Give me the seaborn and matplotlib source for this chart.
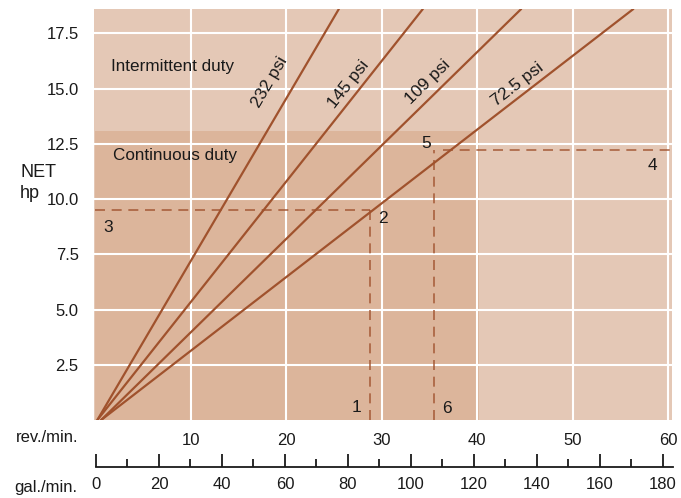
import numpy as np
import pandas as pd
import matplotlib
matplotlib.use("Agg")
import matplotlib.pyplot as plt
import seaborn as sns
from matplotlib.patches import Rectangle

sns.set_style("white")
plt.rcParams["font.family"] = ["Liberation Sans", "DejaVu Sans"]
plt.rcParams["text.color"] = "#1a1a1a"

# pressure lines: start and end (rev./min, hp)
psi_labels = ["232 psi", "145 psi", "109 psi", "72.5 psi"]
rev_start = [0.2, 0.2, 0.6, 0.6]
rev_end = [25.5, 34.3, 44.6, 56.35]
hp_end = [18.6, 18.6, 18.6, 18.6]
label_rev = [18.3, 26.5, 34.8, 44.2]
label_hp = [15.3, 15.2, 15.3, 15.2]

# duty regions
cont_rev = 40.2
cont_hp = 13.1

# reading examples (dashed guides)
ex1_rev, ex1_hp = 28.8, 9.5
ex2_rev, ex2_hp, ex2_start = 35.45, 12.23, 36.4
point_labels = ["1", "2", "3", "4", "5", "6"]
point_rev = [27.3, 30.1, 1.35, 58.3, 34.6, 36.8]
point_hp = [0.55, 9.1, 8.7, 11.5, 12.5, 0.5]

rev_ticks = [10, 20, 30, 40, 50, 60]
hp_ticks = [2.5, 5.0, 7.5, 10.0, 12.5, 15.0, 17.5]
gal_major = [0, 20, 40, 60, 80, 100, 120, 140, 160, 180]
gal_minor = [10, 30, 50, 70, 90, 110, 130, 150, 170]

light = "#e4c8b6"
dark = "#dcb59b"
brown = "#a0522d"
ink = "#1a1a1a"

fig = plt.figure(figsize=(6.81, 4.98), dpi=100)
ax = fig.add_axes([94/681, 78/498, 578/681, 411/498])
ax.set_facecolor(light)
ax.add_patch(Rectangle((0, 0), cont_rev, cont_hp, facecolor=dark, edgecolor="none", zorder=0))

for v in rev_ticks:
    ax.axvline(v, color="white", lw=1.5, zorder=1)
for h in hp_ticks:
    ax.axhline(h, color="white", lw=1.5, zorder=1)

rows = []
for lab, x0, x1, y1 in zip(psi_labels, rev_start, rev_end, hp_end):
    rows.append({"psi": lab, "rev": x0, "hp": 0})
    rows.append({"psi": lab, "rev": x1, "hp": y1})
df = pd.DataFrame(rows)
sns.lineplot(data=df, x="rev", y="hp", units="psi", estimator=None, color=brown,
             lw=1.6, ax=ax, zorder=3)

ax.set_xlim(-0.15, 60.4)
ax.set_ylim(0, 18.6)

# text labels along lines, rotated to match screen angle
sx = 578 / 60.55
sy = 411 / 18.6
for lab, x0, x1, y1, lx, ly in zip(psi_labels, rev_start, rev_end, hp_end, label_rev, label_hp):
    ang = np.degrees(np.arctan((y1 / (x1 - x0)) * sy / sx))
    ax.text(lx, ly, lab, rotation=ang, ha="center", va="center", fontsize=12.5, zorder=4)

dash = dict(color=brown, lw=1.2, ls=(0, (6, 4)), alpha=0.85, zorder=2)
ax.plot([0, ex1_rev], [ex1_hp, ex1_hp], **dash)
ax.plot([ex1_rev, ex1_rev], [0, ex1_hp], **dash)
ax.plot([ex2_rev, ex2_rev], [0, ex2_hp], **dash)
ax.plot([ex2_start, 60.4], [ex2_hp, ex2_hp], **dash)

for lab, x, y in zip(point_labels, point_rev, point_hp):
    ax.text(x, y, lab, ha="center", va="center", fontsize=12.5, zorder=4)

ax.text(1.6, 16.0, "Intermittent duty", ha="left", va="center", fontsize=12.3)
ax.text(1.8, 11.95, "Continuous duty", ha="left", va="center", fontsize=12.3)

ax.set_xticks(rev_ticks)
ax.set_yticks(hp_ticks)
ax.set_yticklabels([f"{h:.1f}" for h in hp_ticks])
ax.tick_params(axis="both", length=0, labelsize=12, colors=ink)
ax.tick_params(axis="x", pad=9)
ax.tick_params(axis="y", pad=11)
ax.set_xlabel("")
ax.set_ylabel("")
for s in ax.spines.values():
    s.set_visible(False)

fig.text(20/681, 1 - 172/498, "NET", fontsize=13, va="center", ha="left")
fig.text(20/681, 1 - 193/498, "hp", fontsize=13, va="center", ha="left")
fig.text(16/681, 1 - 438/498, "rev./min.", fontsize=12, va="center", ha="left")
fig.text(14/681, 1 - 487/498, "gal./min.", fontsize=12, va="center", ha="left")

# gallons scale
gx = fig.add_axes([96/681, 31/498, 577/681, 0.001])
gx.set_xlim(0, 183.2)
gx.set_yticks([])
gx.patch.set_visible(False)
for k in ["top", "left", "right"]:
    gx.spines[k].set_visible(False)
gx.spines["bottom"].set_linewidth(1.3)
gx.spines["bottom"].set_color(ink)
gx.set_xticks(gal_major)
gx.set_xticks(gal_minor, minor=True)
gx.tick_params(axis="x", which="both", bottom=True, colors=ink)
gx.tick_params(axis="x", which="major", direction="in", length=9.5, width=1.3,
               labelsize=12, pad=7)
gx.tick_params(axis="x", which="minor", direction="in", length=6, width=1.3)

fig.savefig("out.png", dpi=100)
